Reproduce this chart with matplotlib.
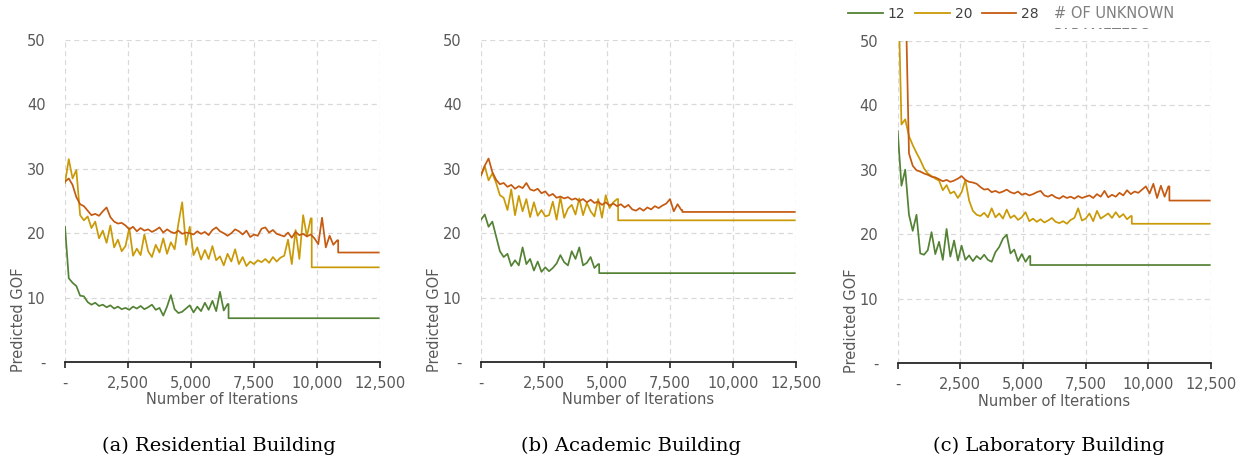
import matplotlib
matplotlib.use("Agg")
import matplotlib.pyplot as plt
import numpy as np
from matplotlib.lines import Line2D
from matplotlib.transforms import Bbox

STEP = 150
X_END = 12450

a_green = [21.0, 13.0, 12.3, 11.8, 10.3, 10.2, 9.3, 8.9, 9.2, 8.7, 8.9, 8.5, 8.8, 8.3, 8.6, 8.2,
           8.4, 8.1, 8.6, 8.3, 8.7, 8.2, 8.5, 8.9, 8.1, 8.4, 7.2, 8.6, 10.4, 8.2, 7.6, 7.8, 8.3,
           8.8, 7.7, 8.6, 7.9, 9.2, 8.1, 9.5, 7.9, 10.9, 8.0, 9.0]
a_green_final = 6.8
a_gold = [27.8, 31.5, 28.5, 29.8, 22.8, 22.0, 22.6, 20.8, 21.8, 19.2, 20.4, 18.5, 21.2, 17.8, 19.0,
          17.2, 18.0, 20.8, 16.5, 17.6, 16.6, 19.8, 17.2, 16.3, 18.2, 17.0, 19.2, 16.8, 18.6, 17.5,
          21.5, 24.8, 18.2, 21.0, 16.6, 17.8, 15.9, 17.4, 16.0, 18.0, 15.8, 16.4, 15.0, 16.8, 15.6,
          17.5, 15.2, 16.3, 14.9, 15.6, 15.2, 15.8, 15.5, 16.0, 15.4, 16.3, 15.6, 16.2, 16.5, 19.0,
          15.2, 20.5, 16.0, 22.8, 19.5, 22.3]
a_gold_final = 14.7
a_orange = [28.0, 28.5, 27.5, 25.6, 24.5, 24.2, 23.5, 22.8, 23.0, 22.7, 23.4, 24.0, 22.5, 21.8, 21.5,
            21.6, 21.2, 20.6, 21.0, 20.3, 20.8, 20.4, 20.6, 20.2, 20.5, 20.9, 20.1, 20.6, 20.2, 20.0,
            20.4, 19.9, 20.1, 20.0, 19.8, 20.3, 19.9, 20.2, 19.7, 20.5, 20.9, 20.3, 20.0, 19.6, 20.0,
            20.6, 20.3, 19.8, 20.4, 19.4, 19.8, 19.6, 20.7, 20.9, 20.1, 20.5, 19.9, 19.7, 19.5, 20.1,
            19.3, 20.2, 19.7, 19.9, 19.5, 19.8, 19.2, 18.3, 22.4, 17.8, 19.6, 18.2, 18.9]
a_orange_final = 17.0

b_green = [22.1, 22.9, 21.0, 21.8, 19.5, 17.2, 16.3, 16.8, 14.9, 15.8, 15.0, 17.8, 15.2, 16.0, 14.2,
           15.6, 14.0, 14.7, 14.1, 14.6, 15.3, 16.6, 15.5, 15.0, 17.2, 16.0, 17.8, 15.0, 15.4, 16.3,
           14.6, 15.2]
b_green_final = 13.8
b_gold = [29.0, 30.4, 28.2, 29.3, 27.8, 25.9, 25.5, 23.6, 26.8, 22.8, 25.8, 23.4, 25.3, 22.5, 24.8,
          22.7, 23.6, 22.6, 22.8, 24.9, 22.1, 25.6, 22.4, 23.8, 24.4, 22.9, 25.4, 22.8, 24.7, 23.4,
          22.6, 25.3, 22.4, 25.9, 23.9, 24.8, 25.3]
b_gold_final = 22.0
b_orange = [29.0, 30.5, 31.6, 29.5, 28.3, 27.6, 27.8, 27.2, 27.5, 26.9, 27.3, 27.0, 27.8, 26.8, 26.6,
            26.9, 26.2, 26.5, 25.8, 26.1, 25.5, 25.7, 25.4, 25.6, 25.2, 25.4, 25.0, 25.3, 24.8, 25.2,
            24.7, 24.9, 24.4, 24.8, 24.3, 24.6, 24.2, 24.5, 24.0, 24.4, 23.7, 23.5, 23.9, 23.5, 24.0,
            23.7, 24.2, 23.9, 24.3, 24.6, 25.3, 23.4, 24.5, 23.6]
b_orange_final = 23.3

c_green = [36.0, 27.5, 30.0, 23.0, 20.5, 23.0, 17.0, 16.8, 17.5, 20.3, 16.9, 18.8, 16.0, 20.8, 16.5,
           19.0, 15.9, 18.2, 16.0, 16.7, 15.8, 16.6, 16.1, 16.8, 16.0, 15.7, 17.2, 18.0, 19.3, 19.9,
           17.0, 17.6, 15.8, 16.9, 15.7, 16.6]
c_green_final = 15.2
c_gold = [62.0, 37.0, 37.8, 35.2, 33.8, 32.6, 31.5, 30.2, 29.4, 29.0, 28.6, 28.3, 26.8, 27.6, 26.3,
          26.6, 25.6, 26.5, 28.4, 25.2, 23.6, 23.0, 22.8, 23.3, 22.6, 24.0, 22.6, 23.2, 22.4, 23.8,
          22.5, 22.9, 22.2, 22.6, 23.4, 22.0, 22.4, 21.9, 22.3, 21.8, 22.1, 22.5, 21.9, 21.7, 22.0,
          21.6, 22.2, 22.5, 24.0, 22.1, 22.4, 23.2, 22.0, 23.6, 22.4, 22.8, 23.2, 22.5, 23.4, 22.6,
          23.1, 22.3, 22.8]
c_gold_final = 21.6
c_orange = [75.0, 72.0, 60.0, 32.5, 30.6, 29.9, 29.7, 29.4, 29.2, 28.9, 28.8, 28.5, 28.2, 28.4, 28.1,
            28.3, 28.6, 29.0, 28.4, 28.1, 28.0, 27.8, 27.3, 26.9, 27.0, 26.5, 26.7, 26.4, 26.6, 26.9,
            26.5, 26.3, 26.6, 26.1, 26.3, 26.0, 26.2, 26.5, 26.7, 26.0, 25.8, 26.1, 25.7, 25.5, 25.9,
            25.6, 25.8, 25.5, 25.9, 25.6, 25.8, 26.0, 25.6, 26.2, 25.8, 26.7, 25.7, 26.1, 25.8, 26.4,
            26.0, 26.8, 26.2, 26.6, 26.4, 26.9, 27.4, 26.3, 27.8, 25.6, 27.5, 25.8, 27.4]
c_orange_final = 25.2

series_labels = ["12", "20", "28"]
panel_titles = ["(a) Residential Building", "(b) Academic Building", "(c) Laboratory Building"]
x_ticks = [0, 2500, 5000, 7500, 10000, 12500]
x_ticklabels = ["-", "2,500", "5,000", "7,500", "10,000", "12,500"]
y_ticks = [0, 10, 20, 30, 40, 50]
y_ticklabels = ["-", "10", "20", "30", "40", "50"]

COLORS = ["#548235", "#C99A06", "#C55A11"]
TXT = "#595959"

panels = [
    [(a_green, a_green_final), (a_gold, a_gold_final), (a_orange, a_orange_final)],
    [(b_green, b_green_final), (b_gold, b_gold_final), (b_orange, b_orange_final)],
    [(c_green, c_green_final), (c_gold, c_gold_final), (c_orange, c_orange_final)],
]

W, H = 1247, 461
fig = plt.figure(figsize=(W / 100, H / 100), dpi=100)
plt.rcParams["font.family"] = ["DejaVu Sans"]

boxes = [(65, 380, 40, 362), (481, 796, 40, 362), (897.7, 1211, 40.7, 363)]


def series_xy(vals, final):
    x = [i * STEP for i in range(len(vals))]
    y = list(vals)
    xe = x[-1] + 40
    x += [xe, xe, X_END]
    y += [y[-1], final, final]
    return x, y


for idx, ((l, r, t, b), pdata, title) in enumerate(zip(boxes, panels, panel_titles)):
    ax = fig.add_axes([l / W, 1 - b / H, (r - l) / W, (b - t) / H])
    for (vals, final), col in zip(pdata, COLORS):
        x, y = series_xy(vals, final)
        ax.plot(x, y, color=col, lw=1.25)
    ax.set_xlim(0, 12500)
    ax.set_ylim(0, 50)
    ax.set_xticks(x_ticks)
    ax.set_xticklabels(x_ticklabels)
    ax.set_yticks(y_ticks)
    ax.set_yticklabels(y_ticklabels)
    ax.grid(True, color="#D9D9D9", ls=(0, (4, 3)), lw=0.9)
    ax.set_axisbelow(True)
    for s in ["top", "right", "left"]:
        ax.spines[s].set_visible(False)
    ax.spines["bottom"].set_color("#262626")
    ax.spines["bottom"].set_linewidth(1.3)
    ax.tick_params(axis="x", length=4, width=1.2, color="#262626", labelsize=10.5,
                   labelcolor=TXT, pad=6)
    ax.tick_params(axis="y", length=0, labelsize=10.5, labelcolor=TXT, pad=14)
    ax.text(0.5, -0.118, "Number of Iterations", transform=ax.transAxes, ha="center",
            va="center", fontsize=10.5, color=TXT)
    ax.text(-0.149, -0.031, "Predicted GOF", transform=ax.transAxes, rotation=90,
            ha="center", va="bottom", fontsize=10.5, color=TXT)
    cx = [219, 631, 1049][idx]
    fig.text(cx / W, 1 - 446 / H, title, ha="center", va="center", fontsize=14,
             family="DejaVu Serif", color="black")

# legend
handles = [Line2D([0], [0], color=c, lw=1.3) for c in COLORS]
leg = fig.legend(handles, series_labels, ncol=3, loc="center left",
                 bbox_to_anchor=(848 / W, 1 - 14 / H), frameon=False,
                 handlelength=2.5, handletextpad=0.35, columnspacing=0.7,
                 fontsize=10, borderaxespad=0, borderpad=0)
for t in leg.get_texts():
    t.set_color("#404040")
fig.text(1054 / W, 1 - 14 / H, "# OF UNKNOWN", ha="left", va="center", fontsize=10.5,
         color="#7F7F7F")
ptxt = fig.text(1054 / W, 1 - 36 / H, "PARAMETERS", ha="left", va="center", fontsize=10.5,
                color="#7F7F7F")
ptxt.set_clip_box(Bbox.from_extents(0, (H - 29), W, H))
ptxt.set_clip_on(True)

fig.savefig("out.png", dpi=100)
